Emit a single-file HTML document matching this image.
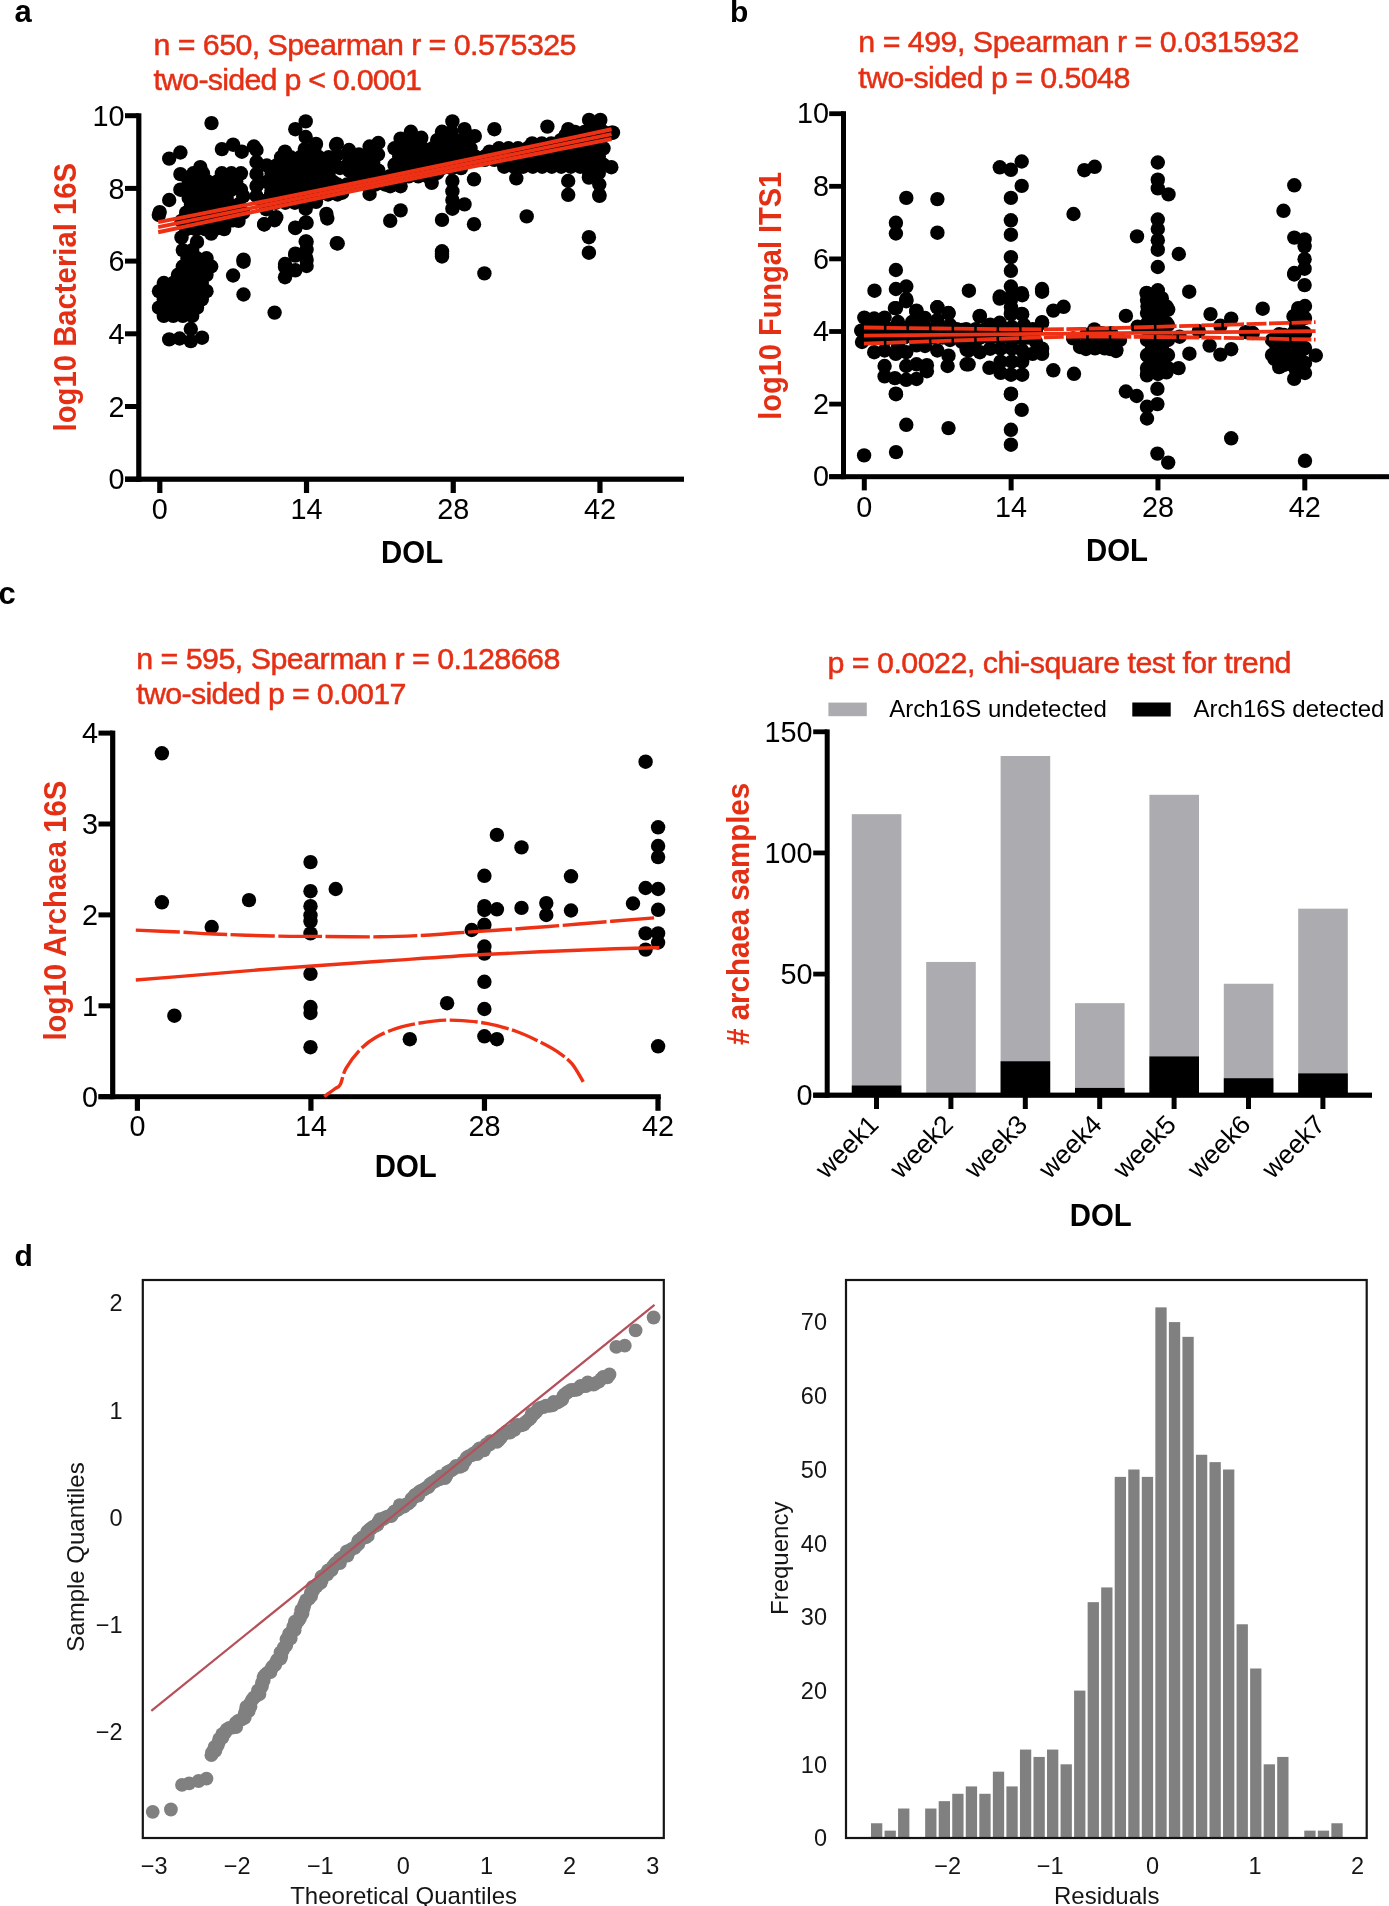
<!DOCTYPE html>
<html><head><meta charset="utf-8"><style>
html,body{margin:0;padding:0;background:#fff;width:1389px;height:1906px;overflow:hidden}
svg{display:block;will-change:transform;font-family:"Liberation Sans",sans-serif}
</style></head><body>
<svg width="1389" height="1906" viewBox="0 0 1389 1906">
<rect width="1389" height="1906" fill="#fff"/>
<text x="14.50" y="22.00" font-size="31" text-anchor="start" font-weight="bold" fill="#000">a</text>
<text x="730.00" y="21.80" font-size="30" text-anchor="start" font-weight="bold" fill="#000">b</text>
<text x="-1.50" y="603.70" font-size="31" text-anchor="start" font-weight="bold" fill="#000">c</text>
<text x="14.50" y="1265.70" font-size="30" text-anchor="start" font-weight="bold" fill="#000">d</text>
<g id="pa">
<rect x="136.20" y="113.30" width="5.20" height="368.50" fill="#000"/>
<rect x="125.00" y="476.60" width="559.00" height="5.20" fill="#000"/>
<rect x="125.00" y="476.70" width="13.80" height="5.00" fill="#000"/>
<text x="124.50" y="489.30" font-size="28.8" text-anchor="end" font-weight="normal" fill="#000">0</text>
<rect x="125.00" y="404.00" width="13.80" height="5.00" fill="#000"/>
<text x="124.50" y="416.60" font-size="28.8" text-anchor="end" font-weight="normal" fill="#000">2</text>
<rect x="125.00" y="331.30" width="13.80" height="5.00" fill="#000"/>
<text x="124.50" y="343.90" font-size="28.8" text-anchor="end" font-weight="normal" fill="#000">4</text>
<rect x="125.00" y="258.60" width="13.80" height="5.00" fill="#000"/>
<text x="124.50" y="271.20" font-size="28.8" text-anchor="end" font-weight="normal" fill="#000">6</text>
<rect x="125.00" y="185.90" width="13.80" height="5.00" fill="#000"/>
<text x="124.50" y="198.50" font-size="28.8" text-anchor="end" font-weight="normal" fill="#000">8</text>
<rect x="125.00" y="113.20" width="13.80" height="5.00" fill="#000"/>
<text x="124.50" y="125.80" font-size="28.8" text-anchor="end" font-weight="normal" fill="#000">10</text>
<rect x="157.20" y="479.20" width="5.20" height="13.80" fill="#000"/>
<text x="159.80" y="519.30" font-size="28.8" text-anchor="middle" font-weight="normal" fill="#000">0</text>
<rect x="303.92" y="479.20" width="5.20" height="13.80" fill="#000"/>
<text x="306.52" y="519.30" font-size="28.8" text-anchor="middle" font-weight="normal" fill="#000">14</text>
<rect x="450.64" y="479.20" width="5.20" height="13.80" fill="#000"/>
<text x="453.24" y="519.30" font-size="28.8" text-anchor="middle" font-weight="normal" fill="#000">28</text>
<rect x="597.36" y="479.20" width="5.20" height="13.80" fill="#000"/>
<text x="599.96" y="519.30" font-size="28.8" text-anchor="middle" font-weight="normal" fill="#000">42</text>
<text x="412.10" y="563.00" font-size="31.5" text-anchor="middle" font-weight="bold" fill="#000" textLength="62" lengthAdjust="spacingAndGlyphs">DOL</text>
<text x="75.60" y="297.20" font-size="31" text-anchor="middle" font-weight="bold" fill="#e52f14" textLength="268.5" lengthAdjust="spacingAndGlyphs" transform="rotate(-90 75.60 297.20)">log10 Bacterial 16S</text>
<text x="153.50" y="55.10" font-size="30.4" text-anchor="start" font-weight="normal" fill="#e52f14" textLength="423" lengthAdjust="spacing" stroke="#e52f14" stroke-width="0.5">n = 650, Spearman r = 0.575325</text>
<text x="153.50" y="90.20" font-size="30.4" text-anchor="start" font-weight="normal" fill="#e52f14" textLength="268.5" lengthAdjust="spacing" stroke="#e52f14" stroke-width="0.5">two-sided p &lt; 0.0001</text>
<g fill="#000"><circle cx="211.5" cy="123.1" r="7.2"/><circle cx="305.7" cy="121.4" r="7.2"/><circle cx="295.3" cy="129.2" r="7.2"/><circle cx="305.7" cy="137" r="7.2"/><circle cx="169.2" cy="158.6" r="7.2"/><circle cx="180.4" cy="152.5" r="7.2"/><circle cx="221.9" cy="149.1" r="7.2"/><circle cx="233.1" cy="144.7" r="7.2"/><circle cx="253.9" cy="146.5" r="7.2"/><circle cx="241.8" cy="151.7" r="7.2"/><circle cx="285" cy="151.7" r="7.2"/><circle cx="316" cy="143.9" r="7.2"/><circle cx="336.8" cy="143.9" r="7.2"/><circle cx="348.9" cy="153.4" r="7.2"/><circle cx="348.9" cy="163.7" r="7.2"/><circle cx="369.6" cy="146.5" r="7.2"/><circle cx="378.3" cy="143" r="7.2"/><circle cx="369.6" cy="165.5" r="7.2"/><circle cx="378.3" cy="170.7" r="7.2"/><circle cx="200.3" cy="167.2" r="7.2"/><circle cx="180.4" cy="174.1" r="7.2"/><circle cx="180.4" cy="189.7" r="7.2"/><circle cx="169.2" cy="200" r="7.2"/><circle cx="159.7" cy="212.1" r="7.2"/><circle cx="264.2" cy="224.2" r="7.2"/><circle cx="276.3" cy="217.3" r="7.2"/><circle cx="233.1" cy="219" r="7.2"/><circle cx="295.3" cy="227.7" r="7.2"/><circle cx="305.7" cy="222.5" r="7.2"/><circle cx="305.7" cy="208.7" r="7.2"/><circle cx="326.4" cy="213.9" r="7.2"/><circle cx="316" cy="201.8" r="7.2"/><circle cx="359.3" cy="182.8" r="7.2"/><circle cx="369.6" cy="194" r="7.2"/><circle cx="336.8" cy="243.2" r="7.2"/><circle cx="305.7" cy="241.5" r="7.2"/><circle cx="295.3" cy="253.6" r="7.2"/><circle cx="305.7" cy="257" r="7.2"/><circle cx="285" cy="264" r="7.2"/><circle cx="243.5" cy="259.6" r="7.2"/><circle cx="494.4" cy="129.2" r="7.2"/><circle cx="547.4" cy="126.6" r="7.2"/><circle cx="568.2" cy="129.2" r="7.2"/><circle cx="400.6" cy="138.7" r="7.2"/><circle cx="410.9" cy="131.8" r="7.2"/><circle cx="421.3" cy="137.8" r="7.2"/><circle cx="452.4" cy="121.4" r="7.2"/><circle cx="442" cy="131.8" r="7.2"/><circle cx="464.5" cy="129.2" r="7.2"/><circle cx="474.8" cy="136.1" r="7.2"/><circle cx="431.7" cy="182.8" r="7.2"/><circle cx="474" cy="179.3" r="7.2"/><circle cx="516.3" cy="178.4" r="7.2"/><circle cx="611.3" cy="167.2" r="7.2"/><circle cx="400.6" cy="210.4" r="7.2"/><circle cx="390.2" cy="220.8" r="7.2"/><circle cx="442" cy="219.9" r="7.2"/><circle cx="474" cy="224.2" r="7.2"/><circle cx="526.7" cy="216.4" r="7.2"/><circle cx="442" cy="253.6" r="7.2"/><circle cx="588.9" cy="237.2" r="7.2"/><circle cx="588.9" cy="252.7" r="7.2"/><circle cx="452.4" cy="181" r="7.2"/><circle cx="452.4" cy="191.4" r="7.2"/><circle cx="452.4" cy="200" r="7.2"/><circle cx="464.5" cy="204.4" r="7.2"/><circle cx="452.4" cy="208.7" r="7.2"/><circle cx="568.2" cy="181" r="7.2"/><circle cx="568.2" cy="194.8" r="7.2"/><circle cx="599.3" cy="194.8" r="7.2"/><circle cx="599.3" cy="184.5" r="7.2"/><circle cx="588.9" cy="177.6" r="7.2"/><circle cx="400.6" cy="186.2" r="7.2"/><circle cx="390.2" cy="186.2" r="7.2"/><circle cx="613" cy="132.6" r="7.2"/><circle cx="589.1" cy="119.9" r="7.2"/><circle cx="600.3" cy="119.9" r="7.2"/><circle cx="611.6" cy="132.8" r="7.2"/><circle cx="599.5" cy="195.9" r="7.2"/><circle cx="158.8" cy="215" r="7.2"/><circle cx="169.2" cy="339.4" r="7.2"/><circle cx="179.6" cy="338.5" r="7.2"/><circle cx="190.8" cy="329" r="7.2"/><circle cx="190.8" cy="341.1" r="7.2"/><circle cx="202" cy="337.7" r="7.2"/><circle cx="233.1" cy="220.2" r="7.2"/><circle cx="264.2" cy="224.5" r="7.2"/><circle cx="274.6" cy="220.2" r="7.2"/><circle cx="295.3" cy="228" r="7.2"/><circle cx="306.6" cy="222.8" r="7.2"/><circle cx="327.3" cy="218.5" r="7.2"/><circle cx="337.7" cy="243.5" r="7.2"/><circle cx="306.6" cy="241.8" r="7.2"/><circle cx="306.6" cy="249.6" r="7.2"/><circle cx="295.3" cy="255.6" r="7.2"/><circle cx="306.6" cy="259.9" r="7.2"/><circle cx="306.6" cy="266" r="7.2"/><circle cx="285" cy="266.8" r="7.2"/><circle cx="295.3" cy="270.3" r="7.2"/><circle cx="285" cy="277.2" r="7.2"/><circle cx="243.5" cy="261.7" r="7.2"/><circle cx="233.1" cy="275.5" r="7.2"/><circle cx="243.5" cy="294.5" r="7.2"/><circle cx="274.6" cy="312.6" r="7.2"/><circle cx="442" cy="251.3" r="7.2"/><circle cx="442" cy="256.5" r="7.2"/><circle cx="484.4" cy="273.4" r="7.2"/><circle cx="256.5" cy="150" r="7.2"/><circle cx="256.5" cy="162" r="7.2"/><circle cx="256.5" cy="174" r="7.2"/><circle cx="256.5" cy="186" r="7.2"/><circle cx="256.5" cy="196" r="7.2"/><circle cx="337" cy="155" r="7.2"/><circle cx="349" cy="162" r="7.2"/><circle cx="340" cy="168" r="7.2"/><circle cx="349" cy="150" r="7.2"/><circle cx="336" cy="145" r="7.2"/><circle cx="286" cy="190" r="7.2"/><circle cx="294" cy="196" r="7.2"/></g>
<g fill="#000"><circle cx="193.4" cy="173.3" r="7.2"/><circle cx="202.9" cy="173.3" r="7.2"/><circle cx="221.9" cy="173.3" r="7.2"/><circle cx="231.4" cy="173.3" r="7.2"/><circle cx="240.9" cy="173.3" r="7.2"/><circle cx="188.7" cy="181.5" r="7.2"/><circle cx="198.2" cy="181.5" r="7.2"/><circle cx="207.7" cy="181.5" r="7.2"/><circle cx="217.2" cy="181.5" r="7.2"/><circle cx="226.7" cy="181.5" r="7.2"/><circle cx="236.2" cy="181.5" r="7.2"/><circle cx="183.9" cy="189.7" r="7.2"/><circle cx="193.4" cy="189.7" r="7.2"/><circle cx="202.9" cy="189.7" r="7.2"/><circle cx="212.4" cy="189.7" r="7.2"/><circle cx="221.9" cy="189.7" r="7.2"/><circle cx="231.4" cy="189.7" r="7.2"/><circle cx="240.9" cy="189.7" r="7.2"/><circle cx="188.7" cy="197.9" r="7.2"/><circle cx="198.2" cy="197.9" r="7.2"/><circle cx="207.7" cy="197.9" r="7.2"/><circle cx="217.2" cy="197.9" r="7.2"/><circle cx="226.7" cy="197.9" r="7.2"/></g>
<g fill="#000"><circle cx="304.8" cy="149.1" r="7.2"/><circle cx="314.3" cy="149.1" r="7.2"/><circle cx="281.1" cy="157.3" r="7.2"/><circle cx="290.6" cy="157.3" r="7.2"/><circle cx="300.1" cy="157.3" r="7.2"/><circle cx="309.6" cy="157.3" r="7.2"/><circle cx="319.1" cy="157.3" r="7.2"/><circle cx="328.6" cy="157.3" r="7.2"/><circle cx="266.8" cy="165.5" r="7.2"/><circle cx="276.3" cy="165.5" r="7.2"/><circle cx="285.8" cy="165.5" r="7.2"/><circle cx="295.3" cy="165.5" r="7.2"/><circle cx="304.8" cy="165.5" r="7.2"/><circle cx="314.3" cy="165.5" r="7.2"/><circle cx="323.8" cy="165.5" r="7.2"/><circle cx="333.3" cy="165.5" r="7.2"/><circle cx="271.6" cy="173.7" r="7.2"/><circle cx="281.1" cy="173.7" r="7.2"/><circle cx="290.6" cy="173.7" r="7.2"/><circle cx="300.1" cy="173.7" r="7.2"/><circle cx="309.6" cy="173.7" r="7.2"/><circle cx="319.1" cy="173.7" r="7.2"/><circle cx="328.6" cy="173.7" r="7.2"/><circle cx="266.8" cy="182.0" r="7.2"/><circle cx="276.3" cy="182.0" r="7.2"/><circle cx="285.8" cy="182.0" r="7.2"/><circle cx="295.3" cy="182.0" r="7.2"/><circle cx="304.8" cy="182.0" r="7.2"/><circle cx="314.3" cy="182.0" r="7.2"/><circle cx="323.8" cy="182.0" r="7.2"/><circle cx="333.3" cy="182.0" r="7.2"/><circle cx="271.6" cy="190.2" r="7.2"/><circle cx="281.1" cy="190.2" r="7.2"/><circle cx="290.6" cy="190.2" r="7.2"/><circle cx="309.6" cy="190.2" r="7.2"/><circle cx="319.1" cy="190.2" r="7.2"/></g>
<g fill="#000"><circle cx="211.2" cy="233.6" r="7.2"/><circle cx="197.0" cy="241.9" r="7.2"/><circle cx="182.8" cy="250.1" r="7.2"/><circle cx="192.2" cy="250.1" r="7.2"/><circle cx="187.5" cy="258.3" r="7.2"/><circle cx="197.0" cy="258.3" r="7.2"/><circle cx="206.5" cy="258.3" r="7.2"/><circle cx="182.8" cy="266.5" r="7.2"/><circle cx="192.2" cy="266.5" r="7.2"/><circle cx="201.8" cy="266.5" r="7.2"/><circle cx="211.2" cy="266.5" r="7.2"/><circle cx="178.0" cy="274.8" r="7.2"/><circle cx="187.5" cy="274.8" r="7.2"/><circle cx="197.0" cy="274.8" r="7.2"/><circle cx="206.5" cy="274.8" r="7.2"/><circle cx="163.8" cy="283.0" r="7.2"/><circle cx="173.2" cy="283.0" r="7.2"/><circle cx="182.8" cy="283.0" r="7.2"/><circle cx="192.2" cy="283.0" r="7.2"/><circle cx="201.8" cy="283.0" r="7.2"/><circle cx="159.0" cy="291.2" r="7.2"/><circle cx="168.5" cy="291.2" r="7.2"/><circle cx="178.0" cy="291.2" r="7.2"/><circle cx="187.5" cy="291.2" r="7.2"/><circle cx="197.0" cy="291.2" r="7.2"/><circle cx="206.5" cy="291.2" r="7.2"/><circle cx="163.8" cy="299.4" r="7.2"/><circle cx="173.2" cy="299.4" r="7.2"/><circle cx="182.8" cy="299.4" r="7.2"/><circle cx="192.2" cy="299.4" r="7.2"/><circle cx="201.8" cy="299.4" r="7.2"/><circle cx="159.0" cy="307.7" r="7.2"/><circle cx="168.5" cy="307.7" r="7.2"/><circle cx="178.0" cy="307.7" r="7.2"/><circle cx="187.5" cy="307.7" r="7.2"/><circle cx="197.0" cy="307.7" r="7.2"/><circle cx="163.8" cy="315.9" r="7.2"/><circle cx="173.2" cy="315.9" r="7.2"/><circle cx="182.8" cy="315.9" r="7.2"/><circle cx="192.2" cy="315.9" r="7.2"/></g>
<g fill="#000"><circle cx="243.2" cy="196.2" r="7.2"/><circle cx="191.0" cy="204.5" r="7.2"/><circle cx="200.5" cy="204.5" r="7.2"/><circle cx="210.0" cy="204.5" r="7.2"/><circle cx="219.5" cy="204.5" r="7.2"/><circle cx="229.0" cy="204.5" r="7.2"/><circle cx="238.5" cy="204.5" r="7.2"/><circle cx="186.2" cy="212.7" r="7.2"/><circle cx="195.8" cy="212.7" r="7.2"/><circle cx="205.2" cy="212.7" r="7.2"/><circle cx="214.8" cy="212.7" r="7.2"/><circle cx="224.2" cy="212.7" r="7.2"/><circle cx="233.8" cy="212.7" r="7.2"/><circle cx="243.2" cy="212.7" r="7.2"/><circle cx="181.5" cy="220.9" r="7.2"/><circle cx="191.0" cy="220.9" r="7.2"/><circle cx="200.5" cy="220.9" r="7.2"/><circle cx="210.0" cy="220.9" r="7.2"/><circle cx="219.5" cy="220.9" r="7.2"/><circle cx="229.0" cy="220.9" r="7.2"/><circle cx="238.5" cy="220.9" r="7.2"/><circle cx="186.2" cy="229.1" r="7.2"/><circle cx="195.8" cy="229.1" r="7.2"/><circle cx="205.2" cy="229.1" r="7.2"/><circle cx="214.8" cy="229.1" r="7.2"/><circle cx="224.2" cy="229.1" r="7.2"/><circle cx="181.5" cy="237.4" r="7.2"/></g>
<g fill="#000"><circle cx="332.8" cy="186.2" r="7.2"/><circle cx="271.0" cy="194.5" r="7.2"/><circle cx="280.5" cy="194.5" r="7.2"/><circle cx="290.0" cy="194.5" r="7.2"/><circle cx="299.5" cy="194.5" r="7.2"/><circle cx="309.0" cy="194.5" r="7.2"/><circle cx="318.5" cy="194.5" r="7.2"/><circle cx="328.0" cy="194.5" r="7.2"/><circle cx="337.5" cy="194.5" r="7.2"/><circle cx="266.2" cy="202.7" r="7.2"/><circle cx="275.8" cy="202.7" r="7.2"/><circle cx="285.2" cy="202.7" r="7.2"/><circle cx="294.8" cy="202.7" r="7.2"/><circle cx="304.2" cy="202.7" r="7.2"/></g>
<g fill="#000"><circle cx="598.8" cy="123.6" r="7.2"/><circle cx="451.5" cy="131.9" r="7.2"/><circle cx="575.0" cy="131.9" r="7.2"/><circle cx="584.5" cy="131.9" r="7.2"/><circle cx="594.0" cy="131.9" r="7.2"/><circle cx="603.5" cy="131.9" r="7.2"/><circle cx="408.8" cy="140.1" r="7.2"/><circle cx="437.2" cy="140.1" r="7.2"/><circle cx="446.8" cy="140.1" r="7.2"/><circle cx="456.2" cy="140.1" r="7.2"/><circle cx="465.8" cy="140.1" r="7.2"/><circle cx="560.8" cy="140.1" r="7.2"/><circle cx="570.2" cy="140.1" r="7.2"/><circle cx="579.8" cy="140.1" r="7.2"/><circle cx="589.2" cy="140.1" r="7.2"/><circle cx="598.8" cy="140.1" r="7.2"/><circle cx="394.5" cy="148.3" r="7.2"/><circle cx="404.0" cy="148.3" r="7.2"/><circle cx="413.5" cy="148.3" r="7.2"/><circle cx="423.0" cy="148.3" r="7.2"/><circle cx="432.5" cy="148.3" r="7.2"/><circle cx="442.0" cy="148.3" r="7.2"/><circle cx="451.5" cy="148.3" r="7.2"/><circle cx="461.0" cy="148.3" r="7.2"/><circle cx="470.5" cy="148.3" r="7.2"/><circle cx="499.0" cy="148.3" r="7.2"/><circle cx="508.5" cy="148.3" r="7.2"/><circle cx="518.0" cy="148.3" r="7.2"/><circle cx="527.5" cy="148.3" r="7.2"/><circle cx="556.0" cy="148.3" r="7.2"/><circle cx="565.5" cy="148.3" r="7.2"/><circle cx="575.0" cy="148.3" r="7.2"/><circle cx="584.5" cy="148.3" r="7.2"/><circle cx="594.0" cy="148.3" r="7.2"/><circle cx="603.5" cy="148.3" r="7.2"/><circle cx="399.2" cy="156.5" r="7.2"/><circle cx="408.8" cy="156.5" r="7.2"/><circle cx="418.2" cy="156.5" r="7.2"/><circle cx="427.8" cy="156.5" r="7.2"/><circle cx="437.2" cy="156.5" r="7.2"/><circle cx="446.8" cy="156.5" r="7.2"/><circle cx="456.2" cy="156.5" r="7.2"/><circle cx="465.8" cy="156.5" r="7.2"/><circle cx="475.2" cy="156.5" r="7.2"/><circle cx="484.8" cy="156.5" r="7.2"/><circle cx="494.2" cy="156.5" r="7.2"/><circle cx="503.8" cy="156.5" r="7.2"/><circle cx="513.2" cy="156.5" r="7.2"/><circle cx="532.2" cy="156.5" r="7.2"/><circle cx="560.8" cy="156.5" r="7.2"/><circle cx="570.2" cy="156.5" r="7.2"/><circle cx="579.8" cy="156.5" r="7.2"/><circle cx="589.2" cy="156.5" r="7.2"/><circle cx="598.8" cy="156.5" r="7.2"/><circle cx="394.5" cy="164.8" r="7.2"/><circle cx="404.0" cy="164.8" r="7.2"/><circle cx="413.5" cy="164.8" r="7.2"/><circle cx="423.0" cy="164.8" r="7.2"/><circle cx="432.5" cy="164.8" r="7.2"/><circle cx="442.0" cy="164.8" r="7.2"/><circle cx="451.5" cy="164.8" r="7.2"/><circle cx="461.0" cy="164.8" r="7.2"/><circle cx="575.0" cy="164.8" r="7.2"/><circle cx="584.5" cy="164.8" r="7.2"/><circle cx="594.0" cy="164.8" r="7.2"/><circle cx="603.5" cy="164.8" r="7.2"/><circle cx="399.2" cy="173.0" r="7.2"/><circle cx="408.8" cy="173.0" r="7.2"/><circle cx="418.2" cy="173.0" r="7.2"/><circle cx="427.8" cy="173.0" r="7.2"/><circle cx="437.2" cy="173.0" r="7.2"/><circle cx="589.2" cy="173.0" r="7.2"/><circle cx="598.8" cy="173.0" r="7.2"/></g>
<g fill="#000"><circle cx="349.5" cy="154.5" r="7.2"/><circle cx="359.0" cy="154.5" r="7.2"/><circle cx="368.5" cy="154.5" r="7.2"/><circle cx="378.0" cy="154.5" r="7.2"/><circle cx="354.2" cy="162.7" r="7.2"/><circle cx="363.8" cy="162.7" r="7.2"/><circle cx="373.2" cy="162.7" r="7.2"/><circle cx="349.5" cy="170.9" r="7.2"/><circle cx="359.0" cy="170.9" r="7.2"/><circle cx="368.5" cy="170.9" r="7.2"/><circle cx="378.0" cy="170.9" r="7.2"/><circle cx="354.2" cy="179.1" r="7.2"/><circle cx="363.8" cy="179.1" r="7.2"/><circle cx="373.2" cy="179.1" r="7.2"/></g>
<g fill="#000"><circle cx="565.5" cy="135.2" r="7.2"/><circle cx="575.0" cy="135.2" r="7.2"/><circle cx="584.5" cy="135.2" r="7.2"/><circle cx="594.0" cy="135.2" r="7.2"/><circle cx="603.5" cy="135.2" r="7.2"/><circle cx="532.2" cy="143.4" r="7.2"/><circle cx="541.8" cy="143.4" r="7.2"/><circle cx="551.2" cy="143.4" r="7.2"/><circle cx="560.8" cy="143.4" r="7.2"/><circle cx="570.2" cy="143.4" r="7.2"/><circle cx="579.8" cy="143.4" r="7.2"/><circle cx="489.5" cy="151.6" r="7.2"/><circle cx="499.0" cy="151.6" r="7.2"/><circle cx="508.5" cy="151.6" r="7.2"/><circle cx="518.0" cy="151.6" r="7.2"/><circle cx="527.5" cy="151.6" r="7.2"/><circle cx="537.0" cy="151.6" r="7.2"/><circle cx="546.5" cy="151.6" r="7.2"/><circle cx="446.8" cy="159.8" r="7.2"/><circle cx="456.2" cy="159.8" r="7.2"/><circle cx="465.8" cy="159.8" r="7.2"/><circle cx="475.2" cy="159.8" r="7.2"/><circle cx="484.8" cy="159.8" r="7.2"/><circle cx="494.2" cy="159.8" r="7.2"/><circle cx="503.8" cy="159.8" r="7.2"/><circle cx="413.5" cy="168.1" r="7.2"/><circle cx="423.0" cy="168.1" r="7.2"/><circle cx="432.5" cy="168.1" r="7.2"/><circle cx="442.0" cy="168.1" r="7.2"/><circle cx="451.5" cy="168.1" r="7.2"/><circle cx="461.0" cy="168.1" r="7.2"/><circle cx="370.8" cy="176.3" r="7.2"/><circle cx="380.2" cy="176.3" r="7.2"/><circle cx="389.8" cy="176.3" r="7.2"/><circle cx="399.2" cy="176.3" r="7.2"/><circle cx="408.8" cy="176.3" r="7.2"/><circle cx="418.2" cy="176.3" r="7.2"/><circle cx="427.8" cy="176.3" r="7.2"/><circle cx="328.0" cy="184.5" r="7.2"/><circle cx="337.5" cy="184.5" r="7.2"/><circle cx="347.0" cy="184.5" r="7.2"/><circle cx="356.5" cy="184.5" r="7.2"/><circle cx="366.0" cy="184.5" r="7.2"/><circle cx="375.5" cy="184.5" r="7.2"/><circle cx="385.0" cy="184.5" r="7.2"/><circle cx="285.2" cy="192.7" r="7.2"/><circle cx="294.8" cy="192.7" r="7.2"/><circle cx="304.2" cy="192.7" r="7.2"/><circle cx="313.8" cy="192.7" r="7.2"/><circle cx="323.2" cy="192.7" r="7.2"/><circle cx="332.8" cy="192.7" r="7.2"/><circle cx="342.2" cy="192.7" r="7.2"/><circle cx="261.5" cy="201.0" r="7.2"/><circle cx="271.0" cy="201.0" r="7.2"/><circle cx="280.5" cy="201.0" r="7.2"/><circle cx="290.0" cy="201.0" r="7.2"/><circle cx="299.5" cy="201.0" r="7.2"/><circle cx="266.2" cy="209.2" r="7.2"/></g>
<g fill="#000"><circle cx="551.8" cy="150.2" r="7.2"/><circle cx="561.2" cy="150.2" r="7.2"/><circle cx="499.5" cy="158.5" r="7.2"/><circle cx="509.0" cy="158.5" r="7.2"/><circle cx="518.5" cy="158.5" r="7.2"/><circle cx="528.0" cy="158.5" r="7.2"/><circle cx="537.5" cy="158.5" r="7.2"/><circle cx="547.0" cy="158.5" r="7.2"/><circle cx="556.5" cy="158.5" r="7.2"/><circle cx="566.0" cy="158.5" r="7.2"/><circle cx="575.5" cy="158.5" r="7.2"/><circle cx="504.2" cy="166.7" r="7.2"/><circle cx="513.8" cy="166.7" r="7.2"/><circle cx="523.2" cy="166.7" r="7.2"/><circle cx="532.8" cy="166.7" r="7.2"/><circle cx="542.2" cy="166.7" r="7.2"/><circle cx="551.8" cy="166.7" r="7.2"/><circle cx="561.2" cy="166.7" r="7.2"/><circle cx="570.8" cy="166.7" r="7.2"/><circle cx="580.2" cy="166.7" r="7.2"/><circle cx="589.8" cy="166.7" r="7.2"/></g>
<path d="M158.2,222.1 C168.5,220.1 201.4,213.7 220.0,210.0 C238.6,206.3 242.5,205.7 270.0,200.2 C297.5,194.7 346.7,184.9 385.0,177.0 C423.3,169.1 470.8,159.1 500.0,153.0 C529.2,146.9 541.4,144.3 560.0,140.3 C578.6,136.3 603.0,131.0 611.6,129.2" fill="none" stroke="#ee3115" stroke-width="4"/>
<path d="M158.2,227.2 L611.6,134.1" fill="none" stroke="#ee3115" stroke-width="3.8" stroke-linecap="butt" stroke-linejoin="round"/>
<path d="M158.2,232.3 C168.5,230.1 201.4,223.0 220.0,219.0 C238.6,215.0 242.5,214.0 270.0,208.2 C297.5,202.4 346.7,192.1 385.0,184.2 C423.3,176.3 470.8,166.8 500.0,161.0 C529.2,155.2 541.4,152.8 560.0,149.1 C578.6,145.4 603.0,140.7 611.6,139.0" fill="none" stroke="#ee3115" stroke-width="4"/>
</g>
<rect x="841.00" y="111.20" width="5.00" height="368.00" fill="#000"/>
<rect x="829.20" y="474.20" width="559.80" height="5.00" fill="#000"/>
<rect x="829.20" y="474.30" width="14.30" height="4.80" fill="#000"/>
<text x="829.00" y="486.40" font-size="28.8" text-anchor="end" font-weight="normal" fill="#000">0</text>
<rect x="829.20" y="401.70" width="14.30" height="4.80" fill="#000"/>
<text x="829.00" y="413.80" font-size="28.8" text-anchor="end" font-weight="normal" fill="#000">2</text>
<rect x="829.20" y="329.10" width="14.30" height="4.80" fill="#000"/>
<text x="829.00" y="341.20" font-size="28.8" text-anchor="end" font-weight="normal" fill="#000">4</text>
<rect x="829.20" y="256.50" width="14.30" height="4.80" fill="#000"/>
<text x="829.00" y="268.60" font-size="28.8" text-anchor="end" font-weight="normal" fill="#000">6</text>
<rect x="829.20" y="183.90" width="14.30" height="4.80" fill="#000"/>
<text x="829.00" y="196.00" font-size="28.8" text-anchor="end" font-weight="normal" fill="#000">8</text>
<rect x="829.20" y="111.30" width="14.30" height="4.80" fill="#000"/>
<text x="829.00" y="123.40" font-size="28.8" text-anchor="end" font-weight="normal" fill="#000">10</text>
<rect x="861.80" y="476.70" width="5.00" height="13.70" fill="#000"/>
<text x="864.30" y="516.70" font-size="28.8" text-anchor="middle" font-weight="normal" fill="#000">0</text>
<rect x="1008.63" y="476.70" width="5.00" height="13.70" fill="#000"/>
<text x="1011.13" y="516.70" font-size="28.8" text-anchor="middle" font-weight="normal" fill="#000">14</text>
<rect x="1155.46" y="476.70" width="5.00" height="13.70" fill="#000"/>
<text x="1157.96" y="516.70" font-size="28.8" text-anchor="middle" font-weight="normal" fill="#000">28</text>
<rect x="1302.30" y="476.70" width="5.00" height="13.70" fill="#000"/>
<text x="1304.80" y="516.70" font-size="28.8" text-anchor="middle" font-weight="normal" fill="#000">42</text>
<text x="1117.00" y="560.70" font-size="31.5" text-anchor="middle" font-weight="bold" fill="#000" textLength="62" lengthAdjust="spacingAndGlyphs">DOL</text>
<text x="781.00" y="295.80" font-size="31" text-anchor="middle" font-weight="bold" fill="#e52f14" textLength="248" lengthAdjust="spacingAndGlyphs" transform="rotate(-90 781.00 295.80)">log10 Fungal ITS1</text>
<text x="858.30" y="51.70" font-size="30.4" text-anchor="start" font-weight="normal" fill="#e52f14" textLength="441" lengthAdjust="spacing" stroke="#e52f14" stroke-width="0.5">n = 499, Spearman r = 0.0315932</text>
<text x="858.30" y="87.70" font-size="30.4" text-anchor="start" font-weight="normal" fill="#e52f14" textLength="272" lengthAdjust="spacing" stroke="#e52f14" stroke-width="0.5">two-sided p = 0.5048</text>
<g fill="#000"><circle cx="906.3" cy="197.9" r="7.2"/><circle cx="937.4" cy="199.1" r="7.2"/><circle cx="895.9" cy="222.8" r="7.2"/><circle cx="895.9" cy="233.5" r="7.2"/><circle cx="937.4" cy="232.7" r="7.2"/><circle cx="895.9" cy="270" r="7.2"/><circle cx="874.5" cy="290.7" r="7.2"/><circle cx="895.9" cy="289" r="7.2"/><circle cx="906.3" cy="286.5" r="7.2"/><circle cx="906.3" cy="299" r="7.2"/><circle cx="968.9" cy="290.7" r="7.2"/><circle cx="999.8" cy="167.3" r="7.2"/><circle cx="1010.9" cy="169.8" r="7.2"/><circle cx="1021.7" cy="161.5" r="7.2"/><circle cx="1021.7" cy="185.9" r="7.2"/><circle cx="1010.9" cy="197.9" r="7.2"/><circle cx="1010.9" cy="220.3" r="7.2"/><circle cx="1010.9" cy="234.7" r="7.2"/><circle cx="1010.9" cy="257.2" r="7.2"/><circle cx="1010.9" cy="270.8" r="7.2"/><circle cx="1010.9" cy="286.5" r="7.2"/><circle cx="999.8" cy="296.5" r="7.2"/><circle cx="1021.7" cy="293.1" r="7.2"/><circle cx="1042" cy="289" r="7.2"/><circle cx="1073.5" cy="214" r="7.2"/><circle cx="1084.3" cy="170.2" r="7.2"/><circle cx="1094.7" cy="166.8" r="7.2"/><circle cx="1157.8" cy="162.5" r="7.2"/><circle cx="1157.8" cy="179.7" r="7.2"/><circle cx="1157.8" cy="188.4" r="7.2"/><circle cx="1168.5" cy="194.4" r="7.2"/><circle cx="1157.8" cy="219.5" r="7.2"/><circle cx="1157.8" cy="229" r="7.2"/><circle cx="1157.8" cy="240.2" r="7.2"/><circle cx="1157.8" cy="249.7" r="7.2"/><circle cx="1137" cy="236.4" r="7.2"/><circle cx="1178.8" cy="254" r="7.2"/><circle cx="1157.8" cy="267" r="7.2"/><circle cx="1146.5" cy="292.9" r="7.2"/><circle cx="1157.8" cy="290.3" r="7.2"/><circle cx="1189.2" cy="291.7" r="7.2"/><circle cx="1294.3" cy="185.3" r="7.2"/><circle cx="1283.5" cy="210.8" r="7.2"/><circle cx="1294.3" cy="237.6" r="7.2"/><circle cx="1304.6" cy="239.4" r="7.2"/><circle cx="1304.6" cy="246.3" r="7.2"/><circle cx="1304.6" cy="259.2" r="7.2"/><circle cx="1304.6" cy="268.7" r="7.2"/><circle cx="1294.3" cy="273" r="7.2"/><circle cx="1304.6" cy="285.1" r="7.2"/><circle cx="906.3" cy="300.6" r="7.2"/><circle cx="896" cy="308.1" r="7.2"/><circle cx="916.2" cy="311.4" r="7.2"/><circle cx="937.4" cy="307.3" r="7.2"/><circle cx="948.5" cy="313" r="7.2"/><circle cx="979.6" cy="316.4" r="7.2"/><circle cx="1010.9" cy="299.8" r="7.2"/><circle cx="1010.9" cy="313" r="7.2"/><circle cx="1021.7" cy="313.9" r="7.2"/><circle cx="1042" cy="322.2" r="7.2"/><circle cx="1053.3" cy="310.6" r="7.2"/><circle cx="1063.6" cy="306.8" r="7.2"/><circle cx="864.3" cy="317.6" r="7.2"/><circle cx="874.2" cy="318.5" r="7.2"/><circle cx="884.6" cy="317.6" r="7.2"/><circle cx="894.9" cy="308.1" r="7.2"/><circle cx="906.2" cy="301.2" r="7.2"/><circle cx="916.5" cy="310.7" r="7.2"/><circle cx="937.3" cy="307.3" r="7.2"/><circle cx="948.5" cy="313.3" r="7.2"/><circle cx="937.3" cy="320.2" r="7.2"/><circle cx="916.5" cy="326.3" r="7.2"/><circle cx="861.2" cy="330.6" r="7.2"/><circle cx="874.2" cy="352.2" r="7.2"/><circle cx="884.6" cy="350.5" r="7.2"/><circle cx="895.8" cy="353.9" r="7.2"/><circle cx="906.2" cy="352.2" r="7.2"/><circle cx="916.5" cy="345.3" r="7.2"/><circle cx="937.3" cy="350.5" r="7.2"/><circle cx="948.5" cy="355.7" r="7.2"/><circle cx="966.6" cy="349.6" r="7.2"/><circle cx="884.6" cy="366" r="7.2"/><circle cx="884.6" cy="376.4" r="7.2"/><circle cx="894.9" cy="378.1" r="7.2"/><circle cx="906.2" cy="379.8" r="7.2"/><circle cx="916.5" cy="379" r="7.2"/><circle cx="906.2" cy="366" r="7.2"/><circle cx="916.5" cy="364.3" r="7.2"/><circle cx="926.9" cy="365.2" r="7.2"/><circle cx="926.9" cy="371.2" r="7.2"/><circle cx="947.6" cy="366" r="7.2"/><circle cx="966.6" cy="364.3" r="7.2"/><circle cx="895.8" cy="393.7" r="7.2"/><circle cx="871" cy="326" r="7.2"/><circle cx="871" cy="338" r="7.2"/><circle cx="885" cy="328" r="7.2"/><circle cx="885" cy="340" r="7.2"/><circle cx="898" cy="322" r="7.2"/><circle cx="898" cy="334" r="7.2"/><circle cx="898" cy="346" r="7.2"/><circle cx="912" cy="322" r="7.2"/><circle cx="912" cy="336" r="7.2"/><circle cx="925" cy="318" r="7.2"/><circle cx="925" cy="332" r="7.2"/><circle cx="925" cy="346" r="7.2"/><circle cx="938" cy="334" r="7.2"/><circle cx="950" cy="325" r="7.2"/><circle cx="950" cy="340" r="7.2"/><circle cx="962" cy="330" r="7.2"/><circle cx="962" cy="342" r="7.2"/><circle cx="862" cy="342" r="7.2"/><circle cx="999.7" cy="298.6" r="7.2"/><circle cx="1011.8" cy="295.2" r="7.2"/><circle cx="1022.2" cy="295.2" r="7.2"/><circle cx="1042.1" cy="291.7" r="7.2"/><circle cx="1011" cy="307.3" r="7.2"/><circle cx="1022.2" cy="314.2" r="7.2"/><circle cx="1011" cy="314.2" r="7.2"/><circle cx="979.9" cy="315.9" r="7.2"/><circle cx="1042.1" cy="322.8" r="7.2"/><circle cx="990.2" cy="324.6" r="7.2"/><circle cx="999.7" cy="322.8" r="7.2"/><circle cx="968.6" cy="350.5" r="7.2"/><circle cx="979.9" cy="352.2" r="7.2"/><circle cx="990.2" cy="348.7" r="7.2"/><circle cx="1000.6" cy="348.7" r="7.2"/><circle cx="1011.8" cy="348.7" r="7.2"/><circle cx="1022.2" cy="350.5" r="7.2"/><circle cx="1032.6" cy="353.9" r="7.2"/><circle cx="1042.1" cy="348.7" r="7.2"/><circle cx="1042.1" cy="353.9" r="7.2"/><circle cx="968.6" cy="364.3" r="7.2"/><circle cx="989.4" cy="367.8" r="7.2"/><circle cx="1000.6" cy="361.7" r="7.2"/><circle cx="1011.8" cy="361.7" r="7.2"/><circle cx="1022.2" cy="361.7" r="7.2"/><circle cx="1000.6" cy="372.9" r="7.2"/><circle cx="1011" cy="374.7" r="7.2"/><circle cx="1022.2" cy="374.7" r="7.2"/><circle cx="1011" cy="393.7" r="7.2"/><circle cx="1053.3" cy="370.3" r="7.2"/><circle cx="1074" cy="373.8" r="7.2"/><circle cx="1073.2" cy="338.4" r="7.2"/><circle cx="1080" cy="347" r="7.2"/><circle cx="975" cy="330" r="7.2"/><circle cx="975" cy="342" r="7.2"/><circle cx="988" cy="335" r="7.2"/><circle cx="1000" cy="332" r="7.2"/><circle cx="1012" cy="327" r="7.2"/><circle cx="1012" cy="340" r="7.2"/><circle cx="1024" cy="325" r="7.2"/><circle cx="1024" cy="338" r="7.2"/><circle cx="1036" cy="330" r="7.2"/><circle cx="1036" cy="342" r="7.2"/><circle cx="896" cy="394.2" r="7.2"/><circle cx="1010.9" cy="394.2" r="7.2"/><circle cx="1021.7" cy="409.9" r="7.2"/><circle cx="906.3" cy="424.8" r="7.2"/><circle cx="948.5" cy="428.1" r="7.2"/><circle cx="1010.9" cy="429.8" r="7.2"/><circle cx="1010.9" cy="444.7" r="7.2"/><circle cx="864.1" cy="455.4" r="7.2"/><circle cx="896" cy="452.1" r="7.2"/><circle cx="1147" cy="293.4" r="7.2"/><circle cx="1125.9" cy="315.9" r="7.2"/><circle cx="1147" cy="300" r="7.2"/><circle cx="1147" cy="313" r="7.2"/><circle cx="1157.4" cy="304.2" r="7.2"/><circle cx="1168.2" cy="309.6" r="7.2"/><circle cx="1137.6" cy="326.7" r="7.2"/><circle cx="1094.4" cy="329.4" r="7.2"/><circle cx="1210.5" cy="314.1" r="7.2"/><circle cx="1231.2" cy="318.6" r="7.2"/><circle cx="1220.4" cy="325.8" r="7.2"/><circle cx="1198.8" cy="331.2" r="7.2"/><circle cx="1245.6" cy="332.1" r="7.2"/><circle cx="1252.8" cy="333" r="7.2"/><circle cx="1262.7" cy="308.7" r="7.2"/><circle cx="1294.2" cy="274.5" r="7.2"/><circle cx="1294.2" cy="315.9" r="7.2"/><circle cx="1305" cy="306" r="7.2"/><circle cx="1272" cy="340" r="7.2"/><circle cx="1272" cy="355" r="7.2"/><circle cx="1284" cy="335" r="7.2"/><circle cx="1284" cy="350" r="7.2"/><circle cx="1284" cy="365" r="7.2"/><circle cx="1296" cy="325" r="7.2"/><circle cx="1296" cy="340" r="7.2"/><circle cx="1296" cy="355" r="7.2"/><circle cx="1296" cy="370" r="7.2"/><circle cx="1305" cy="318" r="7.2"/><circle cx="1305" cy="333" r="7.2"/><circle cx="1305" cy="348" r="7.2"/><circle cx="1305" cy="363" r="7.2"/><circle cx="1305" cy="373" r="7.2"/><circle cx="1315.8" cy="355.5" r="7.2"/><circle cx="1294.2" cy="378.9" r="7.2"/><circle cx="1086" cy="335" r="7.2"/><circle cx="1086" cy="349" r="7.2"/><circle cx="1098" cy="333" r="7.2"/><circle cx="1098" cy="347" r="7.2"/><circle cx="1110" cy="335" r="7.2"/><circle cx="1110" cy="349" r="7.2"/><circle cx="1116" cy="351" r="7.2"/><circle cx="1120" cy="340" r="7.2"/><circle cx="1083.3" cy="347.3" r="7.2"/><circle cx="1095" cy="348.3" r="7.2"/><circle cx="1104.7" cy="348.3" r="7.2"/><circle cx="1116.4" cy="350.3" r="7.2"/><circle cx="1147" cy="325" r="7.2"/><circle cx="1147" cy="340" r="7.2"/><circle cx="1147" cy="355" r="7.2"/><circle cx="1147" cy="368" r="7.2"/><circle cx="1158" cy="318" r="7.2"/><circle cx="1158" cy="332" r="7.2"/><circle cx="1158" cy="346" r="7.2"/><circle cx="1158" cy="360" r="7.2"/><circle cx="1158" cy="374" r="7.2"/><circle cx="1168" cy="325" r="7.2"/><circle cx="1168" cy="340" r="7.2"/><circle cx="1168" cy="355" r="7.2"/><circle cx="1168" cy="368" r="7.2"/><circle cx="1178.6" cy="368.1" r="7.2"/><circle cx="1189.4" cy="353.7" r="7.2"/><circle cx="1147" cy="375.3" r="7.2"/><circle cx="1157.4" cy="388.8" r="7.2"/><circle cx="1125.9" cy="391.5" r="7.2"/><circle cx="1136.7" cy="396" r="7.2"/><circle cx="1147" cy="406.8" r="7.2"/><circle cx="1157.4" cy="404.1" r="7.2"/><circle cx="1147" cy="418.5" r="7.2"/><circle cx="1209.6" cy="345.6" r="7.2"/><circle cx="1220.4" cy="354.6" r="7.2"/><circle cx="1231.2" cy="349.2" r="7.2"/><circle cx="1231.2" cy="438.3" r="7.2"/><circle cx="1157.4" cy="453.6" r="7.2"/><circle cx="1168.2" cy="462.6" r="7.2"/><circle cx="1305" cy="460.8" r="7.2"/><circle cx="1179.6" cy="336.7" r="7.2"/></g>
<g fill="#000"><circle cx="871.2" cy="329.2" r="7.2"/><circle cx="880.8" cy="329.2" r="7.2"/><circle cx="890.2" cy="329.2" r="7.2"/><circle cx="899.8" cy="329.2" r="7.2"/><circle cx="909.2" cy="329.2" r="7.2"/><circle cx="918.8" cy="329.2" r="7.2"/><circle cx="928.2" cy="329.2" r="7.2"/><circle cx="937.8" cy="329.2" r="7.2"/><circle cx="947.2" cy="329.2" r="7.2"/><circle cx="956.8" cy="329.2" r="7.2"/><circle cx="966.2" cy="329.2" r="7.2"/><circle cx="975.8" cy="329.2" r="7.2"/><circle cx="985.2" cy="329.2" r="7.2"/><circle cx="994.8" cy="329.2" r="7.2"/><circle cx="1004.2" cy="329.2" r="7.2"/><circle cx="1013.8" cy="329.2" r="7.2"/><circle cx="1023.2" cy="329.2" r="7.2"/><circle cx="1032.8" cy="329.2" r="7.2"/><circle cx="866.5" cy="337.5" r="7.2"/><circle cx="876.0" cy="337.5" r="7.2"/><circle cx="885.5" cy="337.5" r="7.2"/><circle cx="895.0" cy="337.5" r="7.2"/><circle cx="904.5" cy="337.5" r="7.2"/><circle cx="914.0" cy="337.5" r="7.2"/><circle cx="923.5" cy="337.5" r="7.2"/><circle cx="933.0" cy="337.5" r="7.2"/><circle cx="942.5" cy="337.5" r="7.2"/><circle cx="952.0" cy="337.5" r="7.2"/><circle cx="961.5" cy="337.5" r="7.2"/><circle cx="971.0" cy="337.5" r="7.2"/><circle cx="980.5" cy="337.5" r="7.2"/><circle cx="990.0" cy="337.5" r="7.2"/><circle cx="999.5" cy="337.5" r="7.2"/><circle cx="1009.0" cy="337.5" r="7.2"/><circle cx="1018.5" cy="337.5" r="7.2"/><circle cx="1028.0" cy="337.5" r="7.2"/></g>
<g fill="#000"><circle cx="1152.2" cy="298.2" r="7.2"/><circle cx="1161.8" cy="298.2" r="7.2"/><circle cx="1147.5" cy="306.5" r="7.2"/><circle cx="1157.0" cy="306.5" r="7.2"/><circle cx="1166.5" cy="306.5" r="7.2"/><circle cx="1152.2" cy="314.7" r="7.2"/><circle cx="1161.8" cy="314.7" r="7.2"/><circle cx="1147.5" cy="322.9" r="7.2"/><circle cx="1157.0" cy="322.9" r="7.2"/><circle cx="1166.5" cy="322.9" r="7.2"/><circle cx="1152.2" cy="331.1" r="7.2"/><circle cx="1161.8" cy="331.1" r="7.2"/><circle cx="1147.5" cy="339.4" r="7.2"/><circle cx="1157.0" cy="339.4" r="7.2"/><circle cx="1166.5" cy="339.4" r="7.2"/><circle cx="1152.2" cy="347.6" r="7.2"/><circle cx="1161.8" cy="347.6" r="7.2"/><circle cx="1147.5" cy="355.8" r="7.2"/><circle cx="1157.0" cy="355.8" r="7.2"/><circle cx="1166.5" cy="355.8" r="7.2"/><circle cx="1152.2" cy="364.0" r="7.2"/><circle cx="1161.8" cy="364.0" r="7.2"/><circle cx="1147.5" cy="372.3" r="7.2"/><circle cx="1157.0" cy="372.3" r="7.2"/><circle cx="1166.5" cy="372.3" r="7.2"/></g>
<g fill="#000"><circle cx="1298.2" cy="308.2" r="7.2"/><circle cx="1293.5" cy="316.5" r="7.2"/><circle cx="1303.0" cy="316.5" r="7.2"/><circle cx="1298.2" cy="324.7" r="7.2"/><circle cx="1293.5" cy="332.9" r="7.2"/><circle cx="1303.0" cy="332.9" r="7.2"/><circle cx="1298.2" cy="341.1" r="7.2"/><circle cx="1293.5" cy="349.4" r="7.2"/><circle cx="1303.0" cy="349.4" r="7.2"/><circle cx="1298.2" cy="357.6" r="7.2"/><circle cx="1293.5" cy="365.8" r="7.2"/><circle cx="1303.0" cy="365.8" r="7.2"/></g>
<g fill="#000"><circle cx="1279.2" cy="334.2" r="7.2"/><circle cx="1274.5" cy="342.5" r="7.2"/><circle cx="1284.0" cy="342.5" r="7.2"/><circle cx="1279.2" cy="350.7" r="7.2"/><circle cx="1274.5" cy="358.9" r="7.2"/><circle cx="1284.0" cy="358.9" r="7.2"/><circle cx="1279.2" cy="367.1" r="7.2"/></g>
<g fill="#000"><circle cx="1092.2" cy="333.2" r="7.2"/><circle cx="1101.8" cy="333.2" r="7.2"/><circle cx="1111.2" cy="333.2" r="7.2"/><circle cx="1087.5" cy="341.5" r="7.2"/><circle cx="1097.0" cy="341.5" r="7.2"/><circle cx="1106.5" cy="341.5" r="7.2"/><circle cx="1116.0" cy="341.5" r="7.2"/></g>
<path d="M864.0,327.5 C886.7,327.8 964.0,328.9 1000.0,329.1 C1036.0,329.3 1046.7,329.5 1080.0,328.9 C1113.3,328.3 1160.7,326.6 1200.0,325.5 C1239.3,324.4 1296.3,322.7 1315.6,322.1" fill="none" stroke="#ee3115" stroke-width="3.8" stroke-dasharray="20 2.5"/>
<path d="M864.0,335.6 L1315.6,331.2" fill="none" stroke="#ee3115" stroke-width="3.8" stroke-linecap="butt" stroke-linejoin="round"/>
<path d="M864.0,343.7 C886.7,342.9 964.0,340.1 1000.0,338.9 C1036.0,337.7 1046.7,336.9 1080.0,336.7 C1113.3,336.5 1160.7,337.0 1200.0,337.5 C1239.3,338.0 1296.3,339.2 1315.6,339.6" fill="none" stroke="#ee3115" stroke-width="3.8" stroke-dasharray="20 2.5"/>
<rect x="110.10" y="730.60" width="5.20" height="368.60" fill="#000"/>
<rect x="98.50" y="1094.20" width="562.30" height="5.00" fill="#000"/>
<rect x="98.50" y="1094.20" width="14.20" height="5.00" fill="#000"/>
<text x="98.00" y="1106.50" font-size="28.8" text-anchor="end" font-weight="normal" fill="#000">0</text>
<rect x="98.50" y="1003.30" width="14.20" height="5.00" fill="#000"/>
<text x="98.00" y="1015.60" font-size="28.8" text-anchor="end" font-weight="normal" fill="#000">1</text>
<rect x="98.50" y="912.40" width="14.20" height="5.00" fill="#000"/>
<text x="98.00" y="924.70" font-size="28.8" text-anchor="end" font-weight="normal" fill="#000">2</text>
<rect x="98.50" y="821.50" width="14.20" height="5.00" fill="#000"/>
<text x="98.00" y="833.80" font-size="28.8" text-anchor="end" font-weight="normal" fill="#000">3</text>
<rect x="98.50" y="730.60" width="14.20" height="5.00" fill="#000"/>
<text x="98.00" y="742.90" font-size="28.8" text-anchor="end" font-weight="normal" fill="#000">4</text>
<rect x="134.80" y="1096.70" width="5.20" height="14.10" fill="#000"/>
<text x="137.40" y="1136.30" font-size="28.8" text-anchor="middle" font-weight="normal" fill="#000">0</text>
<rect x="308.33" y="1096.70" width="5.20" height="14.10" fill="#000"/>
<text x="310.93" y="1136.30" font-size="28.8" text-anchor="middle" font-weight="normal" fill="#000">14</text>
<rect x="481.86" y="1096.70" width="5.20" height="14.10" fill="#000"/>
<text x="484.46" y="1136.30" font-size="28.8" text-anchor="middle" font-weight="normal" fill="#000">28</text>
<rect x="655.39" y="1096.70" width="5.20" height="14.10" fill="#000"/>
<text x="657.99" y="1136.30" font-size="28.8" text-anchor="middle" font-weight="normal" fill="#000">42</text>
<text x="405.70" y="1177.30" font-size="31.5" text-anchor="middle" font-weight="bold" fill="#000" textLength="62" lengthAdjust="spacingAndGlyphs">DOL</text>
<text x="65.90" y="910.60" font-size="31" text-anchor="middle" font-weight="bold" fill="#e52f14" textLength="260" lengthAdjust="spacingAndGlyphs" transform="rotate(-90 65.90 910.60)">log10 Archaea 16S</text>
<text x="136.30" y="668.50" font-size="30.4" text-anchor="start" font-weight="normal" fill="#e52f14" textLength="424" lengthAdjust="spacing" stroke="#e52f14" stroke-width="0.5">n = 595, Spearman r = 0.128668</text>
<text x="136.30" y="703.80" font-size="30.4" text-anchor="start" font-weight="normal" fill="#e52f14" textLength="270" lengthAdjust="spacing" stroke="#e52f14" stroke-width="0.5">two-sided p = 0.0017</text>
<g fill="#000"><circle cx="161.9" cy="753.3" r="7.2"/><circle cx="161.9" cy="902.3" r="7.2"/><circle cx="249" cy="900.1" r="7.2"/><circle cx="211.7" cy="927" r="7.2"/><circle cx="174.4" cy="1015.7" r="7.2"/><circle cx="310.5" cy="862.1" r="7.2"/><circle cx="310.5" cy="891.2" r="7.2"/><circle cx="310.5" cy="906.2" r="7.2"/><circle cx="310.5" cy="915.3" r="7.2"/><circle cx="310.5" cy="921.3" r="7.2"/><circle cx="310.5" cy="933.4" r="7.2"/><circle cx="310.5" cy="973.8" r="7.2"/><circle cx="310.5" cy="1007" r="7.2"/><circle cx="310.5" cy="1013" r="7.2"/><circle cx="310.5" cy="1047.2" r="7.2"/><circle cx="335.7" cy="889" r="7.2"/><circle cx="447.1" cy="1003.2" r="7.2"/><circle cx="409.8" cy="1039.2" r="7.2"/><circle cx="484.4" cy="875.8" r="7.2"/><circle cx="484.4" cy="906.2" r="7.2"/><circle cx="484.4" cy="910" r="7.2"/><circle cx="484.4" cy="924.8" r="7.2"/><circle cx="484.4" cy="946.5" r="7.2"/><circle cx="484.4" cy="953.6" r="7.2"/><circle cx="484.4" cy="981.8" r="7.2"/><circle cx="484.4" cy="1009" r="7.2"/><circle cx="484.4" cy="1036.3" r="7.2"/><circle cx="471.7" cy="930" r="7.2"/><circle cx="496.9" cy="834.9" r="7.2"/><circle cx="496.9" cy="909.3" r="7.2"/><circle cx="496.9" cy="1039.2" r="7.2"/><circle cx="521.5" cy="847.4" r="7.2"/><circle cx="521.5" cy="907.9" r="7.2"/><circle cx="546.3" cy="903.1" r="7.2"/><circle cx="546.3" cy="915" r="7.2"/><circle cx="571" cy="876.3" r="7.2"/><circle cx="571" cy="910.5" r="7.2"/><circle cx="633" cy="903.5" r="7.2"/><circle cx="645.6" cy="761.7" r="7.2"/><circle cx="645.6" cy="888" r="7.2"/><circle cx="645.6" cy="933.4" r="7.2"/><circle cx="645.6" cy="949.6" r="7.2"/><circle cx="658.1" cy="827.3" r="7.2"/><circle cx="658.1" cy="846" r="7.2"/><circle cx="658.1" cy="857.1" r="7.2"/><circle cx="658.1" cy="889" r="7.2"/><circle cx="658.1" cy="909.8" r="7.2"/><circle cx="658.1" cy="933.4" r="7.2"/><circle cx="658.1" cy="942.5" r="7.2"/><circle cx="658.1" cy="1046.3" r="7.2"/></g>
<path d="M135.8,930.1 C143.2,930.4 167.5,931.5 180.5,932.1 C193.5,932.8 198.4,933.4 213.6,934.0 C228.8,934.6 254.2,935.6 271.9,936.0 C289.6,936.4 302.0,936.3 320.0,936.4 C338.0,936.5 361.7,937.0 380.0,936.8 C398.3,936.6 416.9,935.7 430.0,935.0 C443.1,934.3 442.6,933.9 458.3,932.8 C474.0,931.7 504.3,929.8 524.4,928.3 C544.5,926.8 557.1,925.8 578.8,924.0 C600.5,922.2 642.1,918.8 654.7,917.8" fill="none" stroke="#ee3115" stroke-width="3.4" stroke-dasharray="44 3.5"/>
<path d="M135.8,980.0 C142.3,979.5 154.3,978.6 175.0,976.9 C195.7,975.2 225.8,972.4 260.0,969.8 C294.2,967.2 342.7,963.8 380.0,961.3 C417.3,958.8 444.4,956.6 483.6,954.5 C522.8,952.4 585.7,949.9 615.0,948.8 C644.3,947.7 651.9,947.9 659.3,947.7" fill="none" stroke="#ee3115" stroke-width="3.4"/>
<path d="M324.2,1096.5 C325.9,1095.2 331.9,1091.0 334.6,1089.0 C337.3,1087.0 338.4,1088.0 340.3,1084.5 C342.2,1081.0 342.7,1074.1 346.0,1068.3 C349.3,1062.5 354.9,1055.1 359.9,1049.9 C364.9,1044.7 369.1,1041.0 376.0,1037.2 C382.9,1033.4 391.8,1029.6 401.4,1026.9 C411.0,1024.2 424.4,1022.2 433.6,1021.1 C442.8,1020.0 447.9,1020.0 456.7,1020.4 C465.5,1020.8 476.6,1021.5 486.6,1023.4 C496.6,1025.2 507.8,1028.4 516.6,1031.5 C525.4,1034.6 532.7,1038.3 539.6,1041.8 C546.5,1045.2 552.7,1048.5 558.1,1052.2 C563.5,1055.9 567.7,1058.7 571.9,1063.7 C576.1,1068.7 581.5,1079.1 583.4,1082.2" fill="none" stroke="#ee3115" stroke-width="3.4" stroke-dasharray="28 3.5"/>
<text x="827.50" y="673.40" font-size="30.4" text-anchor="start" font-weight="normal" fill="#e52f14" textLength="464" lengthAdjust="spacing" stroke="#e52f14" stroke-width="0.5">p = 0.0022, chi-square test for trend</text>
<rect x="828.40" y="702.60" width="38.40" height="13.60" fill="#acacb0"/>
<text x="889.30" y="717.20" font-size="24" text-anchor="start" font-weight="normal" fill="#000">Arch16S undetected</text>
<rect x="1132.30" y="702.50" width="38.40" height="14.00" fill="#000"/>
<text x="1193.60" y="717.20" font-size="24" text-anchor="start" font-weight="normal" fill="#000">Arch16S detected</text>
<rect x="851.80" y="814.17" width="49.60" height="281.03" fill="#acacb0"/>
<rect x="851.80" y="1085.51" width="49.60" height="9.69" fill="#000"/>
<rect x="926.20" y="961.95" width="49.60" height="133.25" fill="#acacb0"/>
<rect x="1000.60" y="756.02" width="49.60" height="339.18" fill="#acacb0"/>
<rect x="1000.60" y="1061.28" width="49.60" height="33.92" fill="#000"/>
<rect x="1075.00" y="1003.14" width="49.60" height="92.06" fill="#acacb0"/>
<rect x="1075.00" y="1087.93" width="49.60" height="7.27" fill="#000"/>
<rect x="1149.40" y="794.79" width="49.60" height="300.41" fill="#acacb0"/>
<rect x="1149.40" y="1056.44" width="49.60" height="38.76" fill="#000"/>
<rect x="1223.80" y="983.76" width="49.60" height="111.44" fill="#acacb0"/>
<rect x="1223.80" y="1078.24" width="49.60" height="16.96" fill="#000"/>
<rect x="1298.20" y="908.65" width="49.60" height="186.55" fill="#acacb0"/>
<rect x="1298.20" y="1073.40" width="49.60" height="21.80" fill="#000"/>
<rect x="824.70" y="729.40" width="5.00" height="368.30" fill="#000"/>
<rect x="813.20" y="1092.60" width="558.80" height="5.20" fill="#000"/>
<rect x="813.20" y="1092.80" width="14.00" height="4.80" fill="#000"/>
<text x="812.50" y="1105.00" font-size="28.8" text-anchor="end" font-weight="normal" fill="#000">0</text>
<rect x="813.20" y="971.67" width="14.00" height="4.80" fill="#000"/>
<text x="812.50" y="983.87" font-size="28.8" text-anchor="end" font-weight="normal" fill="#000">50</text>
<rect x="813.20" y="850.53" width="14.00" height="4.80" fill="#000"/>
<text x="812.50" y="862.73" font-size="28.8" text-anchor="end" font-weight="normal" fill="#000">100</text>
<rect x="813.20" y="729.40" width="14.00" height="4.80" fill="#000"/>
<text x="812.50" y="741.60" font-size="28.8" text-anchor="end" font-weight="normal" fill="#000">150</text>
<rect x="874.00" y="1095.20" width="5.00" height="13.80" fill="#000"/>
<text x="880.10" y="1126.10" font-size="26.3" text-anchor="end" font-weight="normal" fill="#000" transform="rotate(-45 880.10 1126.10)">week1</text>
<rect x="948.40" y="1095.20" width="5.00" height="13.80" fill="#000"/>
<text x="954.50" y="1126.10" font-size="26.3" text-anchor="end" font-weight="normal" fill="#000" transform="rotate(-45 954.50 1126.10)">week2</text>
<rect x="1022.80" y="1095.20" width="5.00" height="13.80" fill="#000"/>
<text x="1028.90" y="1126.10" font-size="26.3" text-anchor="end" font-weight="normal" fill="#000" transform="rotate(-45 1028.90 1126.10)">week3</text>
<rect x="1097.20" y="1095.20" width="5.00" height="13.80" fill="#000"/>
<text x="1103.30" y="1126.10" font-size="26.3" text-anchor="end" font-weight="normal" fill="#000" transform="rotate(-45 1103.30 1126.10)">week4</text>
<rect x="1171.60" y="1095.20" width="5.00" height="13.80" fill="#000"/>
<text x="1177.70" y="1126.10" font-size="26.3" text-anchor="end" font-weight="normal" fill="#000" transform="rotate(-45 1177.70 1126.10)">week5</text>
<rect x="1246.00" y="1095.20" width="5.00" height="13.80" fill="#000"/>
<text x="1252.10" y="1126.10" font-size="26.3" text-anchor="end" font-weight="normal" fill="#000" transform="rotate(-45 1252.10 1126.10)">week6</text>
<rect x="1320.40" y="1095.20" width="5.00" height="13.80" fill="#000"/>
<text x="1326.50" y="1126.10" font-size="26.3" text-anchor="end" font-weight="normal" fill="#000" transform="rotate(-45 1326.50 1126.10)">week7</text>
<text x="1100.70" y="1226.40" font-size="31.5" text-anchor="middle" font-weight="bold" fill="#000" textLength="62" lengthAdjust="spacingAndGlyphs">DOL</text>
<text x="749.30" y="913.90" font-size="31" text-anchor="middle" font-weight="bold" fill="#e52f14" textLength="262" lengthAdjust="spacingAndGlyphs" transform="rotate(-90 749.30 913.90)"># archaea samples</text>
<rect x="142.8" y="1280" width="521" height="558" fill="none" stroke="#151515" stroke-width="2.2"/>
<text x="154.10" y="1874.40" font-size="23.5" text-anchor="middle" font-weight="normal" fill="#151515">−3</text>
<text x="237.20" y="1874.40" font-size="23.5" text-anchor="middle" font-weight="normal" fill="#151515">−2</text>
<text x="320.30" y="1874.40" font-size="23.5" text-anchor="middle" font-weight="normal" fill="#151515">−1</text>
<text x="403.40" y="1874.40" font-size="23.5" text-anchor="middle" font-weight="normal" fill="#151515">0</text>
<text x="486.50" y="1874.40" font-size="23.5" text-anchor="middle" font-weight="normal" fill="#151515">1</text>
<text x="569.60" y="1874.40" font-size="23.5" text-anchor="middle" font-weight="normal" fill="#151515">2</text>
<text x="652.70" y="1874.40" font-size="23.5" text-anchor="middle" font-weight="normal" fill="#151515">3</text>
<text x="122.50" y="1739.80" font-size="23.5" text-anchor="end" font-weight="normal" fill="#151515">−2</text>
<text x="122.50" y="1632.70" font-size="23.5" text-anchor="end" font-weight="normal" fill="#151515">−1</text>
<text x="122.50" y="1525.60" font-size="23.5" text-anchor="end" font-weight="normal" fill="#151515">0</text>
<text x="122.50" y="1418.50" font-size="23.5" text-anchor="end" font-weight="normal" fill="#151515">1</text>
<text x="122.50" y="1311.40" font-size="23.5" text-anchor="end" font-weight="normal" fill="#151515">2</text>
<text x="403.60" y="1903.50" font-size="24" text-anchor="middle" font-weight="normal" fill="#151515">Theoretical Quantiles</text>
<text x="84.00" y="1557.00" font-size="24" text-anchor="middle" font-weight="normal" fill="#151515" transform="rotate(-90 84.00 1557.00)">Sample Quantiles</text>
<g fill="#808080"><circle cx="211.4" cy="1755.2" r="6.9"/><circle cx="212.1" cy="1752.3" r="6.9"/><circle cx="215.4" cy="1750.8" r="6.9"/><circle cx="214.6" cy="1747.0" r="6.9"/><circle cx="217.7" cy="1745.4" r="6.9"/><circle cx="218.7" cy="1742.4" r="6.9"/><circle cx="219.1" cy="1739.2" r="6.9"/><circle cx="222.4" cy="1737.7" r="6.9"/><circle cx="222.2" cy="1734.1" r="6.9"/><circle cx="225.3" cy="1732.4" r="6.9"/><circle cx="226.8" cy="1729.4" r="6.9"/><circle cx="229.3" cy="1727.9" r="6.9"/><circle cx="232.4" cy="1727.6" r="6.9"/><circle cx="236.1" cy="1727.2" r="6.9"/><circle cx="235.7" cy="1722.9" r="6.9"/><circle cx="238.1" cy="1720.8" r="6.9"/><circle cx="241.4" cy="1719.5" r="6.9"/><circle cx="244.7" cy="1717.8" r="6.9"/><circle cx="244.6" cy="1714.7" r="6.9"/><circle cx="245.1" cy="1712.1" r="6.9"/><circle cx="248.6" cy="1711.2" r="6.9"/><circle cx="246.3" cy="1706.9" r="6.9"/><circle cx="250.5" cy="1706.7" r="6.9"/><circle cx="250.6" cy="1702.7" r="6.9"/><circle cx="252.0" cy="1699.9" r="6.9"/><circle cx="253.9" cy="1697.5" r="6.9"/><circle cx="256.4" cy="1695.9" r="6.9"/><circle cx="259.5" cy="1694.1" r="6.9"/><circle cx="258.0" cy="1690.4" r="6.9"/><circle cx="260.7" cy="1688.4" r="6.9"/><circle cx="262.0" cy="1685.9" r="6.9"/><circle cx="261.9" cy="1682.8" r="6.9"/><circle cx="263.7" cy="1680.5" r="6.9"/><circle cx="263.5" cy="1677.1" r="6.9"/><circle cx="265.1" cy="1674.8" r="6.9"/><circle cx="267.3" cy="1673.0" r="6.9"/><circle cx="270.5" cy="1672.0" r="6.9"/><circle cx="271.2" cy="1669.1" r="6.9"/><circle cx="272.4" cy="1666.6" r="6.9"/><circle cx="275.0" cy="1665.1" r="6.9"/><circle cx="276.1" cy="1662.5" r="6.9"/><circle cx="277.1" cy="1659.9" r="6.9"/><circle cx="280.6" cy="1658.7" r="6.9"/><circle cx="281.3" cy="1655.9" r="6.9"/><circle cx="280.5" cy="1652.5" r="6.9"/><circle cx="282.9" cy="1650.4" r="6.9"/><circle cx="283.7" cy="1647.7" r="6.9"/><circle cx="286.2" cy="1645.6" r="6.9"/><circle cx="286.6" cy="1642.9" r="6.9"/><circle cx="286.5" cy="1639.4" r="6.9"/><circle cx="290.7" cy="1638.4" r="6.9"/><circle cx="289.0" cy="1633.9" r="6.9"/><circle cx="291.7" cy="1632.0" r="6.9"/><circle cx="294.6" cy="1630.2" r="6.9"/><circle cx="293.3" cy="1626.7" r="6.9"/><circle cx="295.7" cy="1624.9" r="6.9"/><circle cx="294.9" cy="1621.7" r="6.9"/><circle cx="298.5" cy="1620.5" r="6.9"/><circle cx="300.0" cy="1618.3" r="6.9"/><circle cx="300.3" cy="1615.5" r="6.9"/><circle cx="302.5" cy="1613.5" r="6.9"/><circle cx="301.1" cy="1610.1" r="6.9"/><circle cx="303.6" cy="1608.1" r="6.9"/><circle cx="304.1" cy="1605.5" r="6.9"/><circle cx="305.0" cy="1603.0" r="6.9"/><circle cx="306.1" cy="1600.2" r="6.9"/><circle cx="309.1" cy="1598.5" r="6.9"/><circle cx="311.1" cy="1596.2" r="6.9"/><circle cx="310.9" cy="1592.6" r="6.9"/><circle cx="313.2" cy="1590.5" r="6.9"/><circle cx="312.6" cy="1586.8" r="6.9"/><circle cx="316.5" cy="1586.4" r="6.9"/><circle cx="317.9" cy="1584.1" r="6.9"/><circle cx="320.7" cy="1582.9" r="6.9"/><circle cx="321.7" cy="1580.4" r="6.9"/><circle cx="321.5" cy="1576.6" r="6.9"/><circle cx="324.2" cy="1575.2" r="6.9"/><circle cx="327.3" cy="1574.3" r="6.9"/><circle cx="328.0" cy="1570.3" r="6.9"/><circle cx="331.6" cy="1570.0" r="6.9"/><circle cx="332.5" cy="1567.1" r="6.9"/><circle cx="334.1" cy="1565.0" r="6.9"/><circle cx="335.8" cy="1562.9" r="6.9"/><circle cx="339.9" cy="1563.1" r="6.9"/><circle cx="339.6" cy="1559.2" r="6.9"/><circle cx="341.8" cy="1557.6" r="6.9"/><circle cx="344.1" cy="1556.1" r="6.9"/><circle cx="347.5" cy="1555.6" r="6.9"/><circle cx="346.8" cy="1551.3" r="6.9"/><circle cx="349.8" cy="1550.4" r="6.9"/><circle cx="351.9" cy="1548.8" r="6.9"/><circle cx="354.8" cy="1547.8" r="6.9"/><circle cx="356.4" cy="1545.7" r="6.9"/><circle cx="358.3" cy="1544.2" r="6.9"/><circle cx="358.4" cy="1540.6" r="6.9"/><circle cx="360.6" cy="1539.3" r="6.9"/><circle cx="362.3" cy="1537.4" r="6.9"/><circle cx="365.7" cy="1537.4" r="6.9"/><circle cx="367.8" cy="1535.9" r="6.9"/><circle cx="367.2" cy="1531.6" r="6.9"/><circle cx="369.1" cy="1530.0" r="6.9"/><circle cx="371.1" cy="1528.5" r="6.9"/><circle cx="372.9" cy="1526.8" r="6.9"/><circle cx="375.5" cy="1525.9" r="6.9"/><circle cx="377.6" cy="1524.5" r="6.9"/><circle cx="378.6" cy="1521.7" r="6.9"/><circle cx="380.1" cy="1519.2" r="6.9"/><circle cx="383.3" cy="1519.0" r="6.9"/><circle cx="385.4" cy="1517.3" r="6.9"/><circle cx="388.0" cy="1516.4" r="6.9"/><circle cx="391.2" cy="1516.2" r="6.9"/><circle cx="392.7" cy="1513.7" r="6.9"/><circle cx="394.4" cy="1511.5" r="6.9"/><circle cx="396.8" cy="1510.3" r="6.9"/><circle cx="399.1" cy="1508.9" r="6.9"/><circle cx="399.7" cy="1505.1" r="6.9"/><circle cx="404.0" cy="1506.6" r="6.9"/><circle cx="405.8" cy="1504.7" r="6.9"/><circle cx="408.2" cy="1503.6" r="6.9"/><circle cx="410.2" cy="1501.9" r="6.9"/><circle cx="411.4" cy="1499.0" r="6.9"/><circle cx="413.5" cy="1497.5" r="6.9"/><circle cx="415.0" cy="1495.0" r="6.9"/><circle cx="418.4" cy="1495.5" r="6.9"/><circle cx="419.2" cy="1492.0" r="6.9"/><circle cx="421.3" cy="1490.6" r="6.9"/><circle cx="423.8" cy="1489.7" r="6.9"/><circle cx="425.8" cy="1488.1" r="6.9"/><circle cx="428.4" cy="1487.2" r="6.9"/><circle cx="429.9" cy="1484.5" r="6.9"/><circle cx="431.9" cy="1482.8" r="6.9"/><circle cx="434.4" cy="1481.7" r="6.9"/><circle cx="436.5" cy="1480.0" r="6.9"/><circle cx="439.3" cy="1479.3" r="6.9"/><circle cx="440.6" cy="1476.5" r="6.9"/><circle cx="445.0" cy="1478.0" r="6.9"/><circle cx="446.5" cy="1475.5" r="6.9"/><circle cx="447.4" cy="1472.2" r="6.9"/><circle cx="449.9" cy="1471.0" r="6.9"/><circle cx="452.3" cy="1469.8" r="6.9"/><circle cx="454.5" cy="1468.2" r="6.9"/><circle cx="456.0" cy="1465.8" r="6.9"/><circle cx="460.0" cy="1466.8" r="6.9"/><circle cx="462.6" cy="1465.7" r="6.9"/><circle cx="463.3" cy="1462.2" r="6.9"/><circle cx="465.5" cy="1460.7" r="6.9"/><circle cx="466.7" cy="1457.7" r="6.9"/><circle cx="468.9" cy="1456.2" r="6.9"/><circle cx="471.6" cy="1455.4" r="6.9"/><circle cx="473.6" cy="1453.5" r="6.9"/><circle cx="477.2" cy="1454.2" r="6.9"/><circle cx="477.7" cy="1450.3" r="6.9"/><circle cx="479.5" cy="1448.3" r="6.9"/><circle cx="484.0" cy="1450.3" r="6.9"/><circle cx="485.1" cy="1447.3" r="6.9"/><circle cx="486.3" cy="1444.5" r="6.9"/><circle cx="489.5" cy="1444.5" r="6.9"/><circle cx="490.4" cy="1441.2" r="6.9"/><circle cx="493.7" cy="1441.6" r="6.9"/><circle cx="497.0" cy="1441.8" r="6.9"/><circle cx="498.8" cy="1440.0" r="6.9"/><circle cx="500.7" cy="1437.9" r="6.9"/><circle cx="502.0" cy="1434.9" r="6.9"/><circle cx="504.5" cy="1433.9" r="6.9"/><circle cx="506.3" cy="1431.7" r="6.9"/><circle cx="510.0" cy="1432.6" r="6.9"/><circle cx="511.7" cy="1430.3" r="6.9"/><circle cx="514.5" cy="1429.8" r="6.9"/><circle cx="515.7" cy="1426.7" r="6.9"/><circle cx="517.7" cy="1424.9" r="6.9"/><circle cx="521.2" cy="1425.4" r="6.9"/><circle cx="523.7" cy="1424.5" r="6.9"/><circle cx="525.3" cy="1422.5" r="6.9"/><circle cx="527.2" cy="1420.8" r="6.9"/><circle cx="529.2" cy="1419.3" r="6.9"/><circle cx="531.0" cy="1417.5" r="6.9"/><circle cx="531.6" cy="1414.2" r="6.9"/><circle cx="534.3" cy="1413.7" r="6.9"/><circle cx="536.4" cy="1411.6" r="6.9"/><circle cx="538.2" cy="1409.0" r="6.9"/><circle cx="540.6" cy="1407.6" r="6.9"/><circle cx="543.6" cy="1407.1" r="6.9"/><circle cx="546.0" cy="1405.6" r="6.9"/><circle cx="549.4" cy="1405.8" r="6.9"/><circle cx="552.5" cy="1405.4" r="6.9"/><circle cx="553.7" cy="1402.0" r="6.9"/><circle cx="557.3" cy="1402.5" r="6.9"/><circle cx="559.8" cy="1401.2" r="6.9"/><circle cx="562.2" cy="1399.7" r="6.9"/><circle cx="563.3" cy="1396.0" r="6.9"/><circle cx="565.0" cy="1394.1" r="6.9"/><circle cx="567.1" cy="1392.7" r="6.9"/><circle cx="569.2" cy="1391.2" r="6.9"/><circle cx="571.3" cy="1389.8" r="6.9"/><circle cx="574.4" cy="1390.0" r="6.9"/><circle cx="577.2" cy="1389.6" r="6.9"/><circle cx="578.7" cy="1388.2" r="6.9"/><circle cx="580.7" cy="1386.0" r="6.9"/><circle cx="583.4" cy="1386.1" r="6.9"/><circle cx="586.0" cy="1386.1" r="6.9"/><circle cx="587.7" cy="1382.5" r="6.9"/><circle cx="590.7" cy="1384.3" r="6.9"/><circle cx="593.7" cy="1384.6" r="6.9"/><circle cx="596.3" cy="1382.9" r="6.9"/><circle cx="598.9" cy="1381.6" r="6.9"/><circle cx="601.2" cy="1379.2" r="6.9"/><circle cx="603.2" cy="1376.9" r="6.9"/><circle cx="607.4" cy="1377.4" r="6.9"/><circle cx="609.5" cy="1374.5" r="6.9"/><circle cx="152.7" cy="1811.8" r="6.9"/><circle cx="170.9" cy="1809.5" r="6.9"/><circle cx="182" cy="1784.9" r="6.9"/><circle cx="189.1" cy="1783.3" r="6.9"/><circle cx="198.6" cy="1781" r="6.9"/><circle cx="206.5" cy="1778.6" r="6.9"/><circle cx="616.3" cy="1346.9" r="6.9"/><circle cx="624.8" cy="1345.7" r="6.9"/><circle cx="635.6" cy="1330.4" r="6.9"/><circle cx="653.6" cy="1317.5" r="6.9"/></g>
<line x1="151.3" y1="1710.9" x2="654.5" y2="1304.8" stroke="#b5505a" stroke-width="2.2"/>
<rect x="871.00" y="1823.26" width="11.30" height="14.74" fill="#808080"/>
<rect x="884.54" y="1830.63" width="11.30" height="7.37" fill="#808080"/>
<rect x="898.08" y="1808.52" width="11.30" height="29.48" fill="#808080"/>
<rect x="925.16" y="1808.52" width="11.30" height="29.48" fill="#808080"/>
<rect x="938.70" y="1801.15" width="11.30" height="36.85" fill="#808080"/>
<rect x="952.24" y="1793.78" width="11.30" height="44.22" fill="#808080"/>
<rect x="965.78" y="1786.41" width="11.30" height="51.59" fill="#808080"/>
<rect x="979.32" y="1793.78" width="11.30" height="44.22" fill="#808080"/>
<rect x="992.86" y="1771.67" width="11.30" height="66.33" fill="#808080"/>
<rect x="1006.40" y="1786.41" width="11.30" height="51.59" fill="#808080"/>
<rect x="1019.94" y="1749.56" width="11.30" height="88.44" fill="#808080"/>
<rect x="1033.48" y="1756.93" width="11.30" height="81.07" fill="#808080"/>
<rect x="1047.02" y="1749.56" width="11.30" height="88.44" fill="#808080"/>
<rect x="1060.56" y="1764.30" width="11.30" height="73.70" fill="#808080"/>
<rect x="1074.10" y="1690.60" width="11.30" height="147.40" fill="#808080"/>
<rect x="1087.64" y="1602.16" width="11.30" height="235.84" fill="#808080"/>
<rect x="1101.18" y="1587.42" width="11.30" height="250.58" fill="#808080"/>
<rect x="1114.72" y="1476.87" width="11.30" height="361.13" fill="#808080"/>
<rect x="1128.26" y="1469.50" width="11.30" height="368.50" fill="#808080"/>
<rect x="1141.80" y="1476.87" width="11.30" height="361.13" fill="#808080"/>
<rect x="1155.34" y="1307.36" width="11.30" height="530.64" fill="#808080"/>
<rect x="1168.88" y="1322.10" width="11.30" height="515.90" fill="#808080"/>
<rect x="1182.42" y="1336.84" width="11.30" height="501.16" fill="#808080"/>
<rect x="1195.96" y="1454.76" width="11.30" height="383.24" fill="#808080"/>
<rect x="1209.50" y="1462.13" width="11.30" height="375.87" fill="#808080"/>
<rect x="1223.04" y="1469.50" width="11.30" height="368.50" fill="#808080"/>
<rect x="1236.58" y="1624.27" width="11.30" height="213.73" fill="#808080"/>
<rect x="1250.12" y="1668.49" width="11.30" height="169.51" fill="#808080"/>
<rect x="1263.66" y="1764.30" width="11.30" height="73.70" fill="#808080"/>
<rect x="1277.20" y="1756.93" width="11.30" height="81.07" fill="#808080"/>
<rect x="1304.28" y="1830.63" width="11.30" height="7.37" fill="#808080"/>
<rect x="1317.82" y="1830.63" width="11.30" height="7.37" fill="#808080"/>
<rect x="1331.36" y="1823.26" width="11.30" height="14.74" fill="#808080"/>
<rect x="846" y="1280" width="520.7" height="558" fill="none" stroke="#151515" stroke-width="2.2"/>
<text x="827.00" y="1846.30" font-size="23.5" text-anchor="end" font-weight="normal" fill="#151515">0</text>
<text x="827.00" y="1772.60" font-size="23.5" text-anchor="end" font-weight="normal" fill="#151515">10</text>
<text x="827.00" y="1698.90" font-size="23.5" text-anchor="end" font-weight="normal" fill="#151515">20</text>
<text x="827.00" y="1625.20" font-size="23.5" text-anchor="end" font-weight="normal" fill="#151515">30</text>
<text x="827.00" y="1551.50" font-size="23.5" text-anchor="end" font-weight="normal" fill="#151515">40</text>
<text x="827.00" y="1477.80" font-size="23.5" text-anchor="end" font-weight="normal" fill="#151515">50</text>
<text x="827.00" y="1404.10" font-size="23.5" text-anchor="end" font-weight="normal" fill="#151515">60</text>
<text x="827.00" y="1330.40" font-size="23.5" text-anchor="end" font-weight="normal" fill="#151515">70</text>
<text x="947.60" y="1874.20" font-size="23.5" text-anchor="middle" font-weight="normal" fill="#151515">−2</text>
<text x="1050.10" y="1874.20" font-size="23.5" text-anchor="middle" font-weight="normal" fill="#151515">−1</text>
<text x="1152.60" y="1874.20" font-size="23.5" text-anchor="middle" font-weight="normal" fill="#151515">0</text>
<text x="1255.10" y="1874.20" font-size="23.5" text-anchor="middle" font-weight="normal" fill="#151515">1</text>
<text x="1357.60" y="1874.20" font-size="23.5" text-anchor="middle" font-weight="normal" fill="#151515">2</text>
<text x="1106.70" y="1904.30" font-size="24" text-anchor="middle" font-weight="normal" fill="#151515">Residuals</text>
<text x="787.90" y="1558.30" font-size="24" text-anchor="middle" font-weight="normal" fill="#151515" transform="rotate(-90 787.90 1558.30)">Frequency</text>
</svg></body></html>
